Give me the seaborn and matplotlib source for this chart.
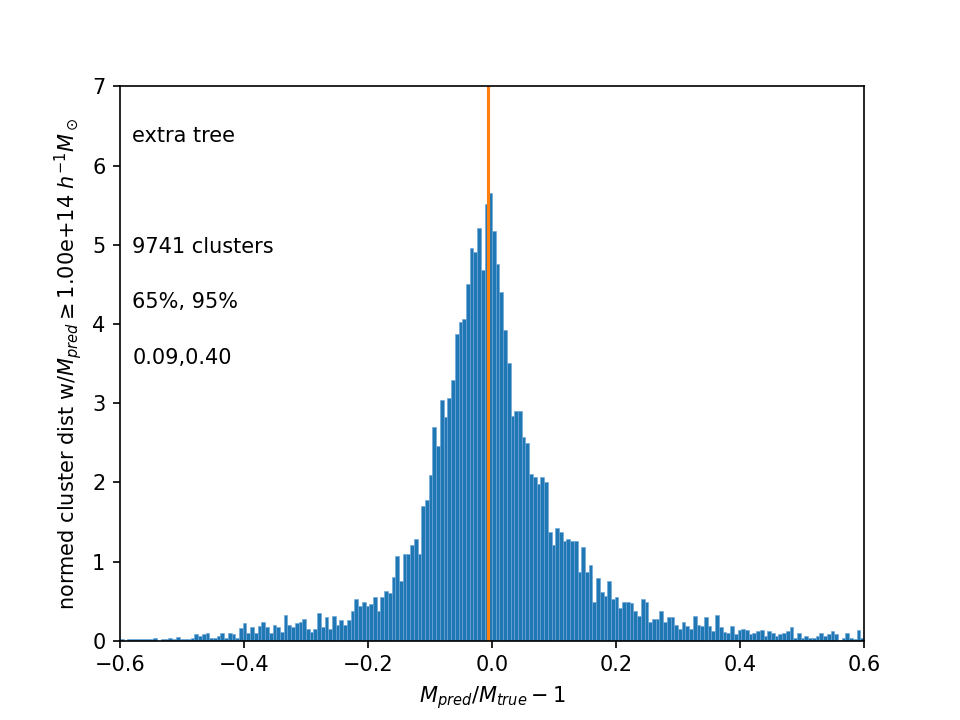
import numpy as np
import pandas as pd
import matplotlib
matplotlib.use("Agg")
import matplotlib.pyplot as plt
import seaborn as sns

# ---- data (normed histogram heights, 200 bins from -0.6 to 0.6) ----
x_lo, x_hi, n_bins = -0.6, 0.6, 200
far_left = [0.017, 0, 0.017, 0.017, 0.017, 0.017, 0.017, 0.017, 0.017, 0.034,
            0, 0.017, 0.017, 0.034, 0.017, 0.051, 0.017, 0.017, 0.017, 0.034]
left_tail = [0.08, 0.06, 0.08, 0.10, 0.03, 0.03, 0.06, 0.10, 0.04, 0.10, 0.08, 0.04]
left_shoulder = [0.16, 0.22, 0.10, 0.17, 0.10, 0.19, 0.24, 0.17, 0.10, 0.20,
                 0.17, 0.11, 0.33, 0.20, 0.17, 0.22, 0.24, 0.27, 0.15, 0.11,
                 0.15, 0.35, 0.17, 0.30, 0.15, 0.31, 0.20, 0.26, 0.20, 0.26,
                 0.38, 0.53]
left_core = [0.44, 0.49, 0.44, 0.47, 0.55, 0.38, 0.55, 0.63, 0.60, 0.81,
             1.07, 0.76, 1.10, 1.10, 1.21, 1.28, 1.10, 1.70, 1.78, 2.09,
             2.70, 2.46, 3.04, 2.82, 3.07, 3.29, 3.88, 4.02, 4.06, 4.51,
             4.96, 4.91, 5.21, 4.68, 5.51]
peak = [5.65]
right_core = [5.17, 4.76, 4.40, 3.92, 3.51, 2.84, 2.90, 2.90, 2.57, 2.50,
              2.11, 2.07, 1.98, 2.07, 2.00, 1.37, 1.21, 1.43, 1.37, 1.26,
              1.28, 1.26, 1.26, 0.87, 1.19, 0.87, 0.96, 0.49, 0.79]
right_shoulder = [0.62, 0.57, 0.76, 0.53, 0.55, 0.42, 0.49, 0.49, 0.48, 0.37,
                  0.31, 0.53, 0.49, 0.24, 0.27, 0.27, 0.37, 0.24, 0.30, 0.30,
                  0.20, 0.15, 0.24, 0.19, 0.15, 0.31, 0.20, 0.19, 0.30, 0.19,
                  0.13, 0.33, 0.17, 0.11, 0.10, 0.19]
right_tail = [0.09, 0.14, 0.15, 0.14, 0.08, 0.10, 0.12, 0.14, 0.06, 0.12,
              0.10, 0.06, 0.08, 0.10, 0.12]
far_right = [0.17, 0.04, 0.10, 0.04, 0.06, 0.04, 0.04, 0.06, 0.10, 0.06,
             0.08, 0.12, 0.08, 0.01, 0.04, 0.10, 0.04, 0.02, 0.14, 0.04]
median_offset = -0.0057

labels = ["extra tree", "9741 clusters", "65%, 95%", "0.09,0.40"]
label_frac = [0.9, 0.7, 0.6, 0.5]
y_max = 7

heights = (far_left + left_tail + left_shoulder + left_core + peak +
           right_core + right_shoulder + right_tail + far_right)
edges = np.linspace(x_lo, x_hi, n_bins + 1)
centers = 0.5 * (edges[:-1] + edges[1:])
df = pd.DataFrame({"offset": centers, "density": heights})

fig, ax = plt.subplots(figsize=(6.4, 4.8), dpi=150)
sns.histplot(data=df, x="offset", weights="density",
             bins=n_bins, binrange=(x_lo, x_hi), stat="count",
             color="#1f77b4", alpha=1.0, edgecolor="#6fa6d6", linewidth=0.3,
             antialiased=True, ax=ax)
ax.axvline(median_offset, color="#ff7f0e", lw=1.5)

ax.set_xlim(x_lo, x_hi)
ax.set_ylim(0, y_max)
for t, f in zip(labels, label_frac):
    ax.text(-0.58, f * y_max, t)

ax.set_xlabel(r"$M_{pred}/M_{true}-1$")
ax.set_ylabel(r"normed cluster dist w/$M_{pred}\geq 1.00$e+14 $h^{-1}M_\odot$")
fig.savefig("out.png", dpi=150)
